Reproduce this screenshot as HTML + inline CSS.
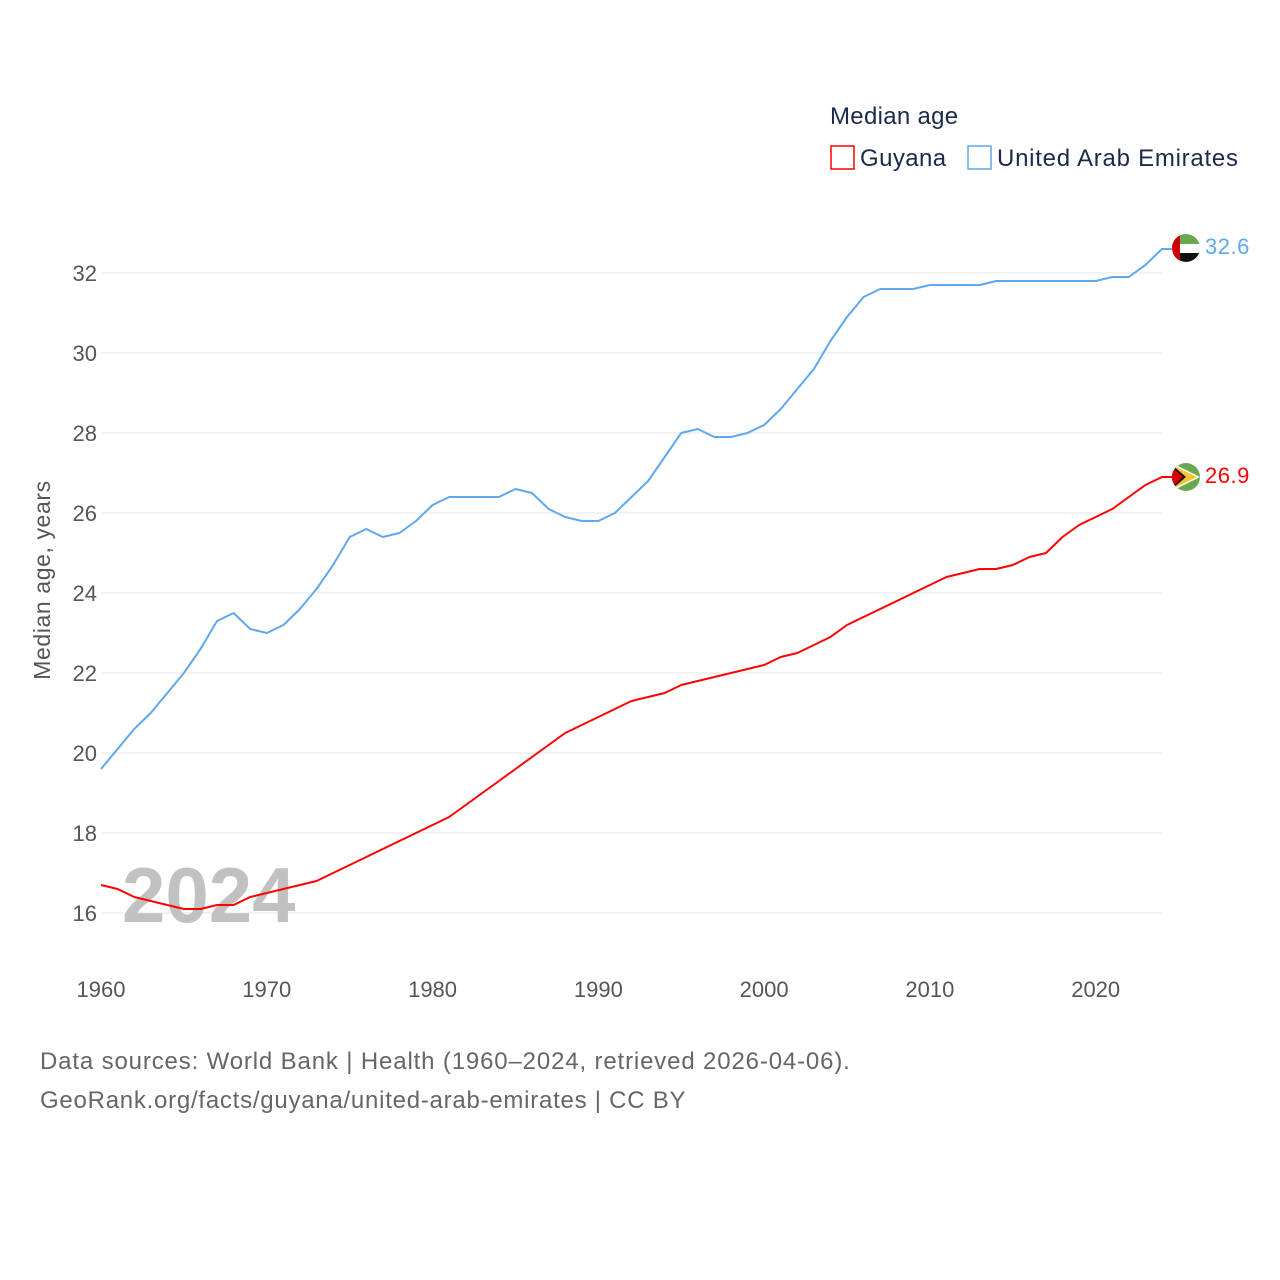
<!DOCTYPE html>
<html><head><meta charset="utf-8"><style>
body{margin:0;background:#fff;font-family:"Liberation Sans",sans-serif}
svg{display:block}
</style></head><body>
<svg width="1280" height="1280" viewBox="0 0 1280 1280">
<g id="grid"></g>
<g id="ylabels" font-size="22" fill="#555" text-anchor="end"></g>
<g id="xlabels" font-size="22" fill="#555" text-anchor="middle"></g>
<text transform="translate(50,580) rotate(-90)" font-size="23" letter-spacing="0.6" fill="#555" text-anchor="middle">Median age, years</text>
<text x="122" y="922" font-size="78" font-weight="bold" fill="#bbb" opacity="0.9">2024</text>
<g id="lines"></g>
<text x="830" y="124" font-size="24" letter-spacing="0.3" fill="#1a2a4a">Median age</text>
<rect x="831" y="146" width="23" height="23" fill="none" stroke="#f00" stroke-width="1.5"/>
<text x="860" y="166" font-size="24" letter-spacing="0.4" fill="#1a2a4a">Guyana</text>
<rect x="968" y="146" width="23" height="23" fill="none" stroke="#5fa8ee" stroke-width="1.5"/>
<text x="997" y="166" font-size="24" letter-spacing="0.75" fill="#1a2a4a">United Arab Emirates</text>
<g>
<clipPath id="c1"><circle cx="1186" cy="248" r="14"/></clipPath>
<g clip-path="url(#c1)"><rect x="1172" y="234" width="28" height="10" fill="#6aa84f"/><rect x="1172" y="244" width="28" height="9" fill="#fff"/><rect x="1172" y="253" width="28" height="10" fill="#111"/><rect x="1172" y="234" width="8" height="28" fill="#c00"/></g></g>
<g>
<clipPath id="c2"><circle cx="1186" cy="477" r="14"/></clipPath>
<g clip-path="url(#c2)"><rect x="1172" y="463" width="28" height="28" fill="#6aa84f"/><polygon points="1172,463 1200,477 1172,491" fill="#fff"/><polygon points="1172,465 1197,477 1172,489" fill="#f7c52b"/><polygon points="1172,465 1186,477 1172,489" fill="#111"/><polygon points="1172,467 1183,477 1172,487" fill="#d00"/></g></g>
<text x="1205" y="254" font-size="22" letter-spacing="0.5" fill="#5fa8ee">32.6</text>
<text x="1205" y="483" font-size="22" letter-spacing="0.5" fill="#f00">26.9</text>
<text x="40" y="1069" font-size="24" letter-spacing="0.85" fill="#666">Data sources: World Bank | Health (1960–2024, retrieved 2026-04-06).</text>
<text x="40" y="1108" font-size="24" letter-spacing="0.75" fill="#666">GeoRank.org/facts/guyana/united-arab-emirates | CC BY</text>
</svg>
<script>
const years=[];for(let y=1960;y<=2024;y++)years.push(y);
const uae=[19.6,20.1,20.6,21.0,21.5,22.0,22.6,23.3,23.5,23.1,23.0,23.2,23.6,24.1,24.7,25.4,25.6,25.4,25.5,25.8,26.2,26.4,26.4,26.4,26.4,26.6,26.5,26.1,25.9,25.8,25.8,26.0,26.4,26.8,27.4,28.0,28.1,27.9,27.9,28.0,28.2,28.6,29.1,29.6,30.3,30.9,31.4,31.6,31.6,31.6,31.7,31.7,31.7,31.7,31.8,31.8,31.8,31.8,31.8,31.8,31.8,31.9,31.9,32.2,32.6];
const guyana=[16.7,16.6,16.4,16.3,16.2,16.1,16.1,16.2,16.2,16.4,16.5,16.6,16.7,16.8,17.0,17.2,17.4,17.6,17.8,18.0,18.2,18.4,18.7,19.0,19.3,19.6,19.9,20.2,20.5,20.7,20.9,21.1,21.3,21.4,21.5,21.7,21.8,21.9,22.0,22.1,22.2,22.4,22.5,22.7,22.9,23.2,23.4,23.6,23.8,24.0,24.2,24.4,24.5,24.6,24.6,24.7,24.9,25.0,25.4,25.7,25.9,26.1,26.4,26.7,26.9];
const yTicks=[16,18,20,22,24,26,28,30,32];
const xTicks=[1960,1970,1980,1990,2000,2010,2020];
const X=y=>101+(y-1960)*(1061/64);
const Y=v=>913-(v-16)*40;
const NS="http://www.w3.org/2000/svg";
const mk=(t,a,p)=>{const e=document.createElementNS(NS,t);for(const k in a)e.setAttribute(k,a[k]);p.appendChild(e);return e;};
const grid=document.getElementById('grid'),yl=document.getElementById('ylabels'),xl=document.getElementById('xlabels'),lines=document.getElementById('lines');
yTicks.forEach(v=>{
 const l=mk('line',{x1:101,x2:1162,y1:Y(v),y2:Y(v),stroke:'#e6e6e6','stroke-width':1},grid);
 
 
 const t=mk('text',{x:97,y:Y(v)+8},yl);t.textContent=v;
 
 
});
xTicks.forEach(v=>{
 const t=mk('text',{x:X(v),y:997},xl);t.textContent=v;
 
 
});
function draw(arr,color,name){
 const last=arr[arr.length-1];
 const d=arr.map((v,i)=>(i?'L':'M')+X(years[i]).toFixed(1)+','+Y(v).toFixed(1)).join('')+'L1172,'+Y(last).toFixed(1);
 const p=mk('path',{d:d,fill:'none',stroke:color,'stroke-width':2,'stroke-linejoin':'round'},lines);
 
 
}
draw(uae,'#5fa8ee','uae-line');
draw(guyana,'#f00','guyana-line');
</script>
</body></html>
